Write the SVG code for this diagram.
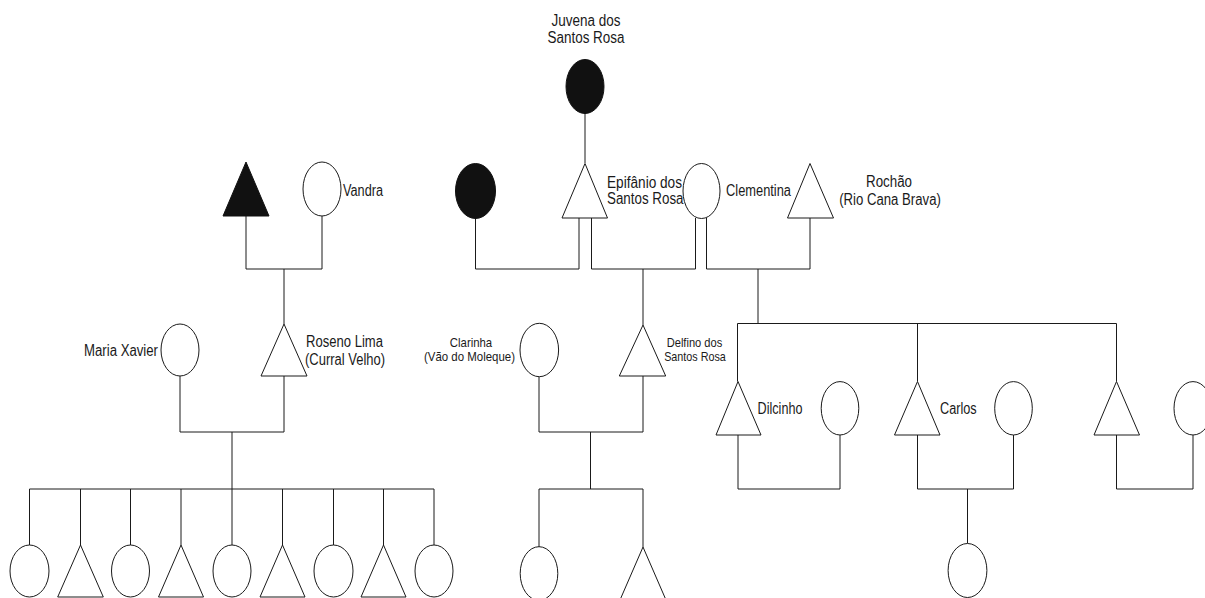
<svg xmlns="http://www.w3.org/2000/svg" width="1205" height="598" viewBox="0 0 1205 598">
<style>
.s{fill:#fff;stroke:#1a1a1a;stroke-width:1}
.f{fill:#111;stroke:#111;stroke-width:1}
.c{fill:none;stroke:#1a1a1a;stroke-width:1}
text{font-family:"Liberation Sans Narrow","Arial Narrow","Liberation Sans",Arial,sans-serif;font-size:16px;fill:#1a1a1a}
.sm{font-size:13px}
.m{text-anchor:middle}
</style>
<rect width="1205" height="598" fill="#fff"/>
<g id="connectors">
<path class="c" d="M585,113 V163"/>
<path class="c" d="M246,216 V269 H322 V216 M284,269 V324"/>
<path class="c" d="M475.5,218 V269 H579 V218"/>
<path class="c" d="M591.5,218 V269 H695.5 V218 M643,269 V325"/>
<path class="c" d="M706.5,218 V269 H810 V218 M758,269 V323.5"/>
<path class="c" d="M737.5,381.5 V323.5 H1116.5 V381.5 M917.5,323.5 V381.5"/>
<path class="c" d="M180,376 V432 H284 V376 M232,432 V489"/>
<path class="c" d="M29.5,545 V489 H434 V545 M80.5,489 V545 M130.5,489 V545 M181,489 V545 M232,489 V545 M282.5,489 V545 M333.5,489 V545 M383.5,489 V545"/>
<path class="c" d="M539,377 V432 H643 V376 M590.5,432 V489"/>
<path class="c" d="M539,547 V489 H643 V547"/>
<path class="c" d="M738,435 V489 H840 V435"/>
<path class="c" d="M917.5,435 V489 H1013.5 V435 M967.5,489 V543.5"/>
<path class="c" d="M1116.5,435 V489 H1193 V435"/>
</g>
<g id="juvena"><ellipse class="f" cx="585" cy="86.5" rx="19" ry="27"/>
<text class="m" x="586" y="26" textLength="69" lengthAdjust="spacingAndGlyphs">Juvena dos</text>
<text class="m" x="586" y="43" textLength="77" lengthAdjust="spacingAndGlyphs">Santos Rosa</text></g>
<g id="grandfather-black"><polygon class="f" points="246,162 269,216 223,216"/></g>
<g id="vandra"><ellipse class="s" cx="322" cy="189" rx="19" ry="27"/>
<text x="343" y="196" textLength="40" lengthAdjust="spacingAndGlyphs">Vandra</text></g>
<g id="first-wife-black"><ellipse class="f" cx="475.5" cy="191" rx="20" ry="27.5"/></g>
<g id="epifanio"><polygon class="s" points="585,163.5 607.5,218 562,218"/>
<text x="607" y="188" textLength="75" lengthAdjust="spacingAndGlyphs">Epifânio dos</text>
<text x="607" y="204" textLength="76.5" lengthAdjust="spacingAndGlyphs">Santos Rosa</text></g>
<g id="clementina"><ellipse class="s" cx="701.5" cy="191" rx="18.5" ry="27.5"/>
<text x="726" y="196" textLength="65" lengthAdjust="spacingAndGlyphs">Clementina</text></g>
<g id="rochao"><polygon class="s" points="810,163.5 833.5,218 787.5,218"/>
<text class="m" x="889" y="187" textLength="46" lengthAdjust="spacingAndGlyphs">Rochão</text>
<text class="m" x="890" y="205" textLength="101.7" lengthAdjust="spacingAndGlyphs">(Rio Cana Brava)</text></g>
<g id="maria-xavier"><ellipse class="s" cx="180" cy="350" rx="19" ry="26"/>
<text x="84" y="356" textLength="74" lengthAdjust="spacingAndGlyphs">Maria Xavier</text></g>
<g id="roseno"><polygon class="s" points="284,324 307,376 261,376"/>
<text x="306" y="347" textLength="77" lengthAdjust="spacingAndGlyphs">Roseno Lima</text>
<text x="305" y="365" textLength="80" lengthAdjust="spacingAndGlyphs">(Curral Velho)</text></g>
<g id="clarinha"><ellipse class="s" cx="539.3" cy="350" rx="19.3" ry="26.7"/>
<text class="m sm" x="471" y="346.7" textLength="42.3" lengthAdjust="spacingAndGlyphs">Clarinha</text>
<text class="m sm" x="469.5" y="361" textLength="91" lengthAdjust="spacingAndGlyphs">(Vão do Moleque)</text></g>
<g id="delfino"><polygon class="s" points="643,325 665.7,376 619.3,376"/>
<text class="m sm" x="694.5" y="346.7" textLength="55.6" lengthAdjust="spacingAndGlyphs">Delfino dos</text>
<text class="m sm" x="695" y="361" textLength="61.7" lengthAdjust="spacingAndGlyphs">Santos Rosa</text></g>
<g id="dilcinho"><polygon class="s" points="738,381.5 761,435 716,435"/>
<text x="757.6" y="413.6" textLength="44.8" lengthAdjust="spacingAndGlyphs">Dilcinho</text></g>
<g id="dilcinho-wife"><ellipse class="s" cx="840" cy="408.3" rx="18.8" ry="26.7"/></g>
<g id="carlos"><polygon class="s" points="917.5,381.5 940,435 894.5,435"/>
<text x="940" y="414" textLength="36.7" lengthAdjust="spacingAndGlyphs">Carlos</text></g>
<g id="carlos-wife"><ellipse class="s" cx="1013.5" cy="408.3" rx="18.8" ry="26.7"/></g>
<g id="son3"><polygon class="s" points="1116.5,381.5 1139.5,435 1094,435"/></g>
<g id="son3-wife"><ellipse class="s" cx="1193" cy="408.3" rx="19" ry="26.7"/></g>
<g id="roseno-children">
<ellipse class="s" cx="29.5" cy="571" rx="19.5" ry="26"/>
<polygon class="s" points="80.5,545 103.3,597 57.7,597"/>
<ellipse class="s" cx="130.5" cy="571" rx="19" ry="26"/>
<polygon class="s" points="181,545 203.5,597 158.5,597"/>
<ellipse class="s" cx="232" cy="571" rx="19" ry="26"/>
<polygon class="s" points="282.5,545 305,597 260,597"/>
<ellipse class="s" cx="333.5" cy="571" rx="19.5" ry="26"/>
<polygon class="s" points="383.5,545 406,597 361,597"/>
<ellipse class="s" cx="434" cy="571" rx="19" ry="26"/>
</g>
<g id="delfino-children">
<ellipse class="s" cx="539" cy="573.5" rx="18.8" ry="26.8"/>
<polygon class="s" points="643,547 666,600 620,600"/>
</g>
<g id="carlos-child"><ellipse class="s" cx="967.5" cy="570.5" rx="19.4" ry="27"/></g>
</svg>
